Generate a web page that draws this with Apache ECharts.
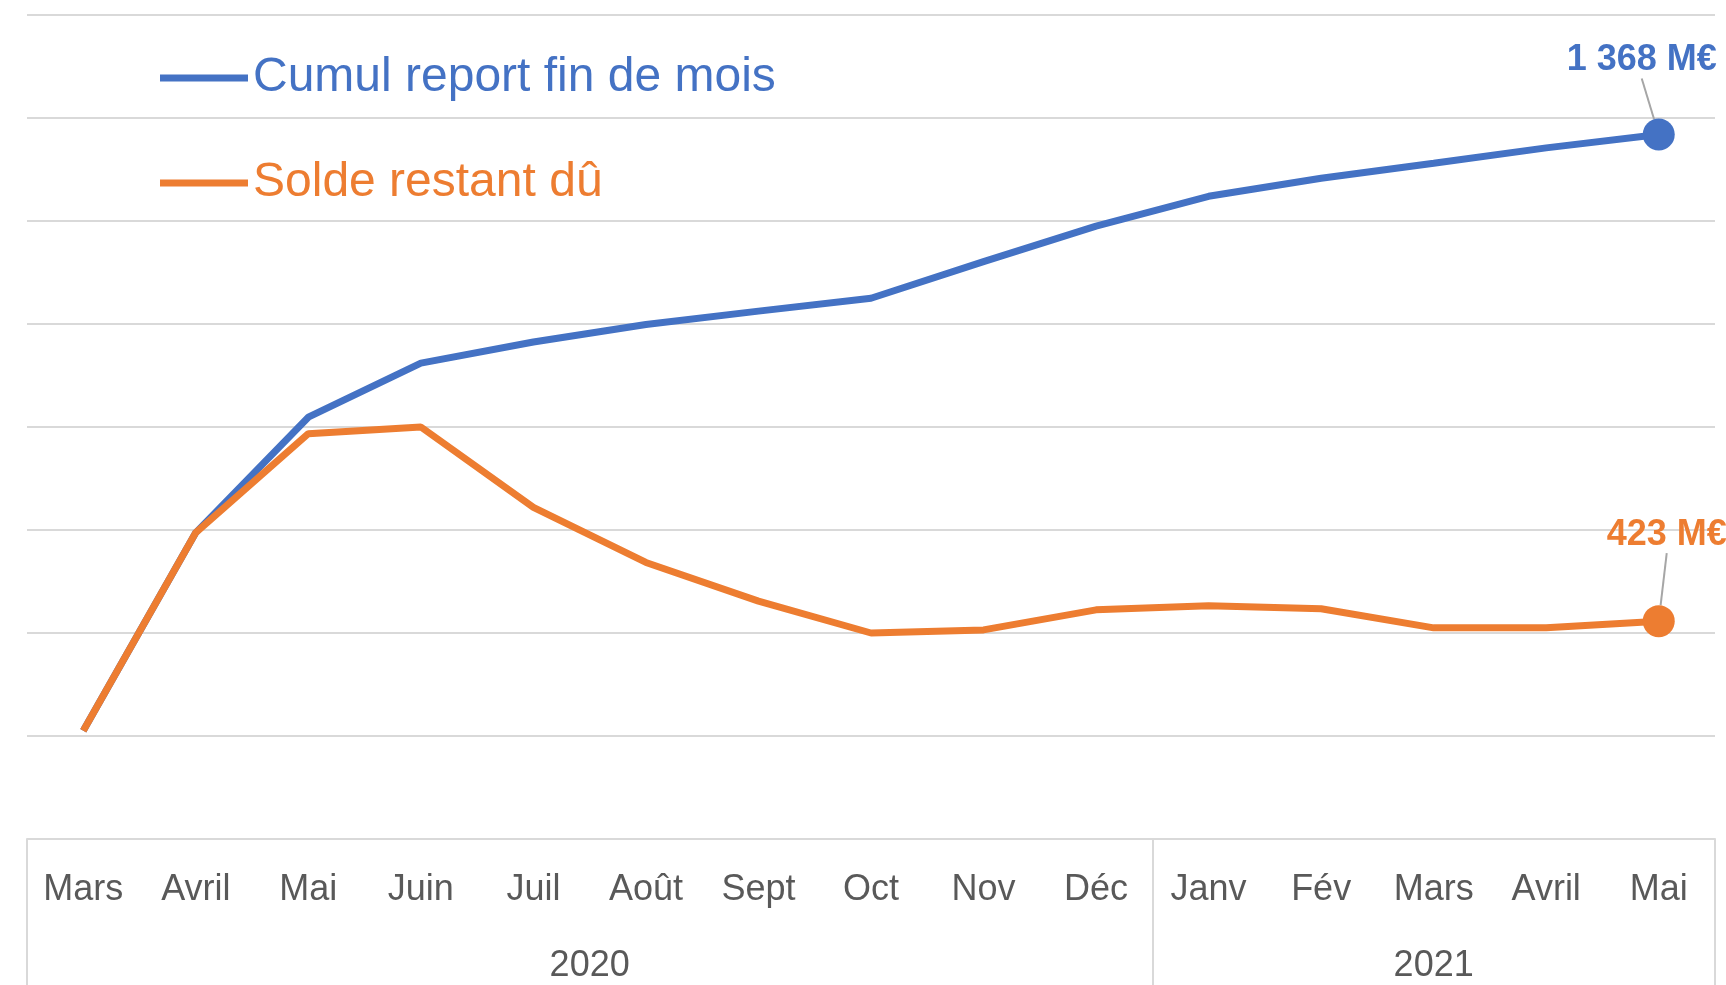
<!DOCTYPE html>
<html>
<head>
<meta charset="utf-8">
<script src="https://cdn.jsdelivr.net/npm/echarts@6/dist/echarts.min.js"></script>
<style>
  html, body { margin: 0; padding: 0; background: #fff; }
  #chart { width: 1726px; height: 985px; }
</style>
</head>
<body>
<div id="chart"></div>
<script>
// Months (March 2020 -> May 2021)
const months = ['Mars', 'Avril', 'Mai', 'Juin', 'Juil', 'Août', 'Sept', 'Oct', 'Nov', 'Déc',
                'Janv', 'Fév', 'Mars', 'Avril', 'Mai'];
// Year groups: label + [first index, index after last]
const years = ['2020', '2021'];
const yearSpans = [[0, 10], [10, 15]];

// Values in M€
const cumulReport = [210, 595, 819, 924, 965, 999, 1025, 1050, 1121, 1190, 1248, 1283, 1312, 1342, 1368];
const soldeRestant = [210, 595, 787, 800, 644, 537, 462, 400, 406, 445, 453, 447, 410, 410, 423];

const BLUE = '#4472C4';
const ORANGE = '#ED7D31';
const GRID_COLOR = '#d9d9d9';
const FONT = "'Liberation Sans', Arial, sans-serif";
const last = months.length - 1;

const fmt = v => String(v).replace(/\B(?=(\d{3})+(?!\d))/g, ' ') + ' M€';

// put the marker + value label on the last point only
function withEndLabel(values, color) {
    return values.map((v, i) => i === last ? {
        value: v,
        label: {
            show: true,
            position: 'inside',
            formatter: p => fmt(p.value),
            color: color,
            fontFamily: FONT,
            fontWeight: 'bold',
            fontSize: 36
        }
    } : v);
}

const chart = echarts.init(document.getElementById('chart'));

// year positions on a 0..15 value scale (middle of each group)
const yearCenters = yearSpans.map(s => (s[0] + s[1]) / 2);
const yearEdges = [0].concat(yearSpans.map(s => s[1]));

const option = {
    animation: false,
    grid: { left: 27, right: 11, top: 15, bottom: 146 },
    legend: {
        orient: 'vertical',
        left: 155,
        top: 45,
        icon: 'rect',
        itemWidth: 88,
        itemHeight: 7,
        itemGap: 49,
        data: [
            { name: 'Cumul report fin de mois', textStyle: { color: BLUE } },
            { name: 'Solde restant dû', textStyle: { color: ORANGE } }
        ],
        textStyle: { fontFamily: FONT, fontSize: 48, lineHeight: 56 }
    },
    xAxis: [
        {
            type: 'category',
            data: months,
            boundaryGap: true,
            axisLine: { lineStyle: { color: GRID_COLOR, width: 2 } },
            axisTick: { show: false },
            axisLabel: {
                color: '#595959',
                fontFamily: FONT,
                fontSize: 36,
                lineHeight: 36,
                margin: 33,
                interval: 0
            }
        },
        {
            type: 'value',
            min: 0,
            max: months.length,
            position: 'bottom',
            axisLine: { show: false },
            splitLine: { show: false },
            axisTick: {
                show: true,
                length: 160,
                customValues: yearEdges,
                lineStyle: { color: GRID_COLOR, width: 2 }
            },
            axisLabel: {
                customValues: yearCenters,
                formatter: v => years[yearCenters.indexOf(v)] || '',
                color: '#595959',
                fontFamily: FONT,
                fontSize: 36,
                lineHeight: 36,
                margin: 109
            }
        }
    ],
    yAxis: {
        type: 'value',
        min: 0,
        max: 1600,
        interval: 200,
        axisLabel: { show: false },
        axisLine: { show: false },
        axisTick: { show: false },
        splitLine: { lineStyle: { color: GRID_COLOR, width: 2 } }
    },
    series: [
        {
            name: 'Cumul report fin de mois',
            type: 'line',
            xAxisIndex: 0,
            data: withEndLabel(cumulReport, BLUE),
            color: BLUE,
            lineStyle: { width: 7, color: BLUE },
            symbol: 'circle',
            symbolSize: (v, p) => p.dataIndex === last ? 32 : 0,
            itemStyle: { color: BLUE },
            labelLayout: { dx: -17, dy: -74 },
            labelLine: { show: true, lineStyle: { color: '#a6a6a6', width: 2 } }
        },
        {
            name: 'Solde restant dû',
            type: 'line',
            xAxisIndex: 0,
            data: withEndLabel(soldeRestant, ORANGE),
            color: ORANGE,
            lineStyle: { width: 7, color: ORANGE },
            symbol: 'circle',
            symbolSize: (v, p) => p.dataIndex === last ? 32 : 0,
            itemStyle: { color: ORANGE },
            labelLayout: { dx: 8, dy: -86 },
            labelLine: { show: true, lineStyle: { color: '#a6a6a6', width: 2 } }
        }
    ]
};

chart.setOption(option);
</script>
</body>
</html>
